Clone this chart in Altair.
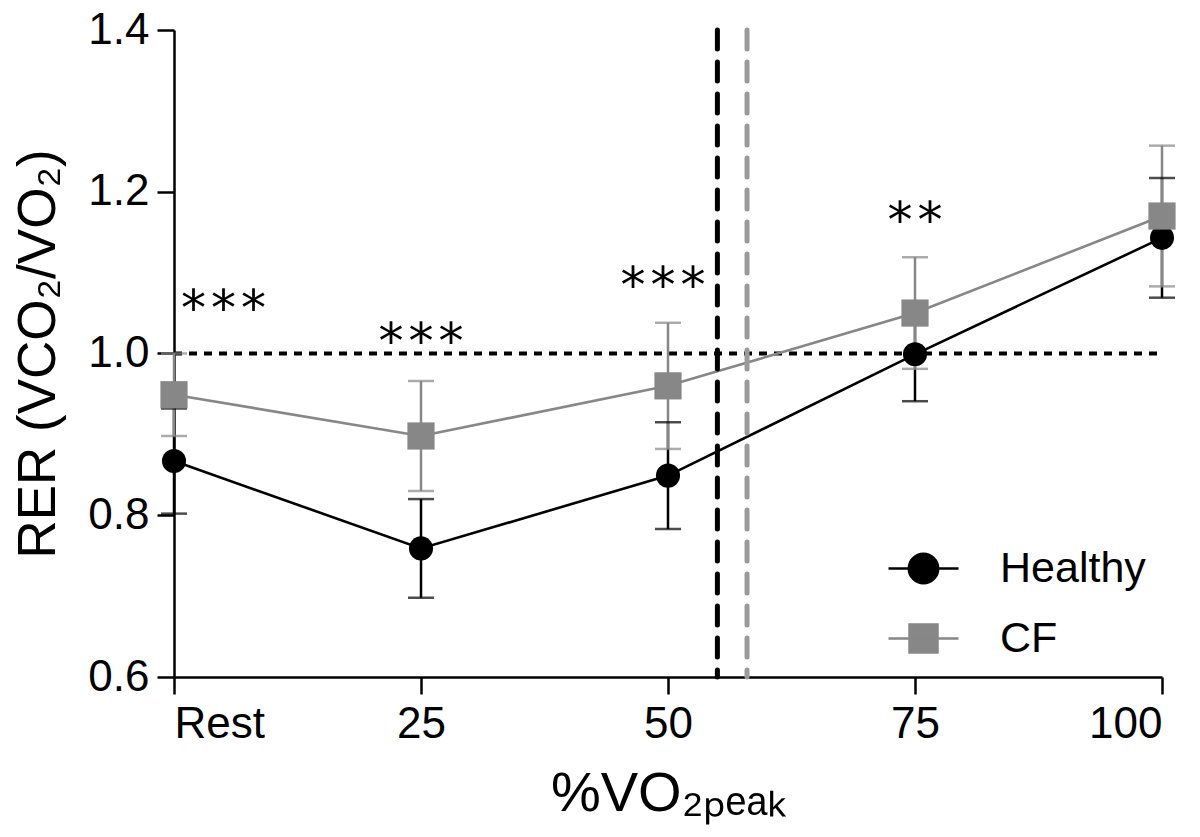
import altair as alt
import pandas as pd

# ---- data ----
levels = [0, 25, 50, 75, 100]            # 0 = Rest
level_names = ["Rest", "25", "50", "75", "100"]
groups = ["Healthy", "CF"]

healthy_mean = [0.867, 0.759, 0.849, 0.999, 1.143]
healthy_err = [0.065, 0.061, 0.066, 0.058, 0.074]
cf_mean = [0.949, 0.898, 0.960, 1.050, 1.170]
cf_err = [0.051, 0.068, 0.078, 0.069, 0.087]

threshold_x = [55, 58]                  # ventilatory threshold (%VO2peak)
threshold_group = ["Healthy", "CF"]
ref_y = [1.0]

sig_x = [5, 25, 49.5, 75]
sig_y = [1.066, 1.025, 1.094, 1.175]
sig_text = ["*\u200a*\u200a*", "*\u200a*\u200a*", "*\u200a*\u200a*", "*\u200a*"]

colors = ["#000000", "#878787"]
FONT = "Liberation Sans"

# ---- tables ----
rows = []
for g, means, errs in [("Healthy", healthy_mean, healthy_err), ("CF", cf_mean, cf_err)]:
    for x, m, e in zip(levels, means, errs):
        rows.append({"group": g, "x": x, "mean": m, "lo": m - e, "hi": m + e})
df = pd.DataFrame(rows)
thr = pd.DataFrame({"x": threshold_x, "group": threshold_group})
ref = pd.DataFrame({"y": ref_y, "x0": [levels[0]], "x1": [levels[-1]]})
sig = pd.DataFrame({"x": sig_x, "y": sig_y, "t": sig_text})

xscale = alt.Scale(domain=[0, 100], nice=False, zero=False)
yscale = alt.Scale(domain=[0.6, 1.4], nice=False, zero=False)
cscale = alt.Scale(domain=groups, range=colors)

X = alt.X("x:Q", scale=xscale,
          axis=alt.Axis(values=levels, title="%VO₂ₚₑₐₖ",
                        labelExpr="datum.value == 0 ? 'Rest' : datum.label",
                        titlePadding=20, labelPadding=8))
Y = alt.Y("mean:Q", scale=yscale,
          axis=alt.Axis(values=[0.6, 0.8, 1.0, 1.2, 1.4], format=".1f",
                        title="RER (VCO₂/VO₂)", titlePadding=22, labelPadding=8))

base = alt.Chart(df)

circ_path = "M-1,0H1M-0.42,0A0.42,0.42,0,1,1,0.42,0A0.42,0.42,0,1,1,-0.42,0Z"
sq_path = "M-1,0H1M-0.4,-0.4H0.4V0.4H-0.4Z"
leg = dict(orient="none", legendX=713, legendY=502, title=None, symbolSize=4900,
           labelFontSize=43, labelFont=FONT, labelColor="black", labelOffset=40,
           symbolOpacity=1, symbolStrokeWidth=2.5, rowPadding=11, padding=0)
legend_layer = base.mark_point(filled=True, size=1, strokeWidth=2.5).encode(
    x=alt.X("x:Q", scale=xscale), y=alt.Y("mean:Q", scale=yscale),
    fill=alt.Fill("group:N", scale=alt.Scale(domain=groups, range=colors), legend=alt.Legend(**leg)),
    stroke=alt.Stroke("group:N", scale=alt.Scale(domain=groups, range=colors), legend=alt.Legend(**leg)),
    shape=alt.Shape("group:N", scale=alt.Scale(domain=groups, range=[circ_path, sq_path]),
                    legend=alt.Legend(**leg)))

hline = alt.Chart(ref).mark_rule(strokeDash=[8, 7], strokeWidth=4, color="black").encode(
    x=alt.X("x0:Q", scale=xscale), x2="x1:Q", y=alt.Y("y:Q", scale=yscale))

lines = base.mark_line(strokeWidth=2.6).encode(
    x=X, y=Y, color=alt.Color("group:N", scale=cscale, legend=None), detail="group:N")

ebars = base.mark_rule(strokeWidth=2.5).encode(
    x=alt.X("x:Q", scale=xscale), y=alt.Y("lo:Q", scale=yscale), y2="hi:Q",
    color=alt.Color("group:N", scale=cscale, legend=None))

caps = base.transform_fold(["lo", "hi"], as_=["k", "v"]).mark_tick(
    orient="horizontal", size=26, thickness=2.5).encode(
    x=alt.X("x:Q", scale=xscale), y=alt.Y("v:Q", scale=yscale),
    color=alt.Color("group:N", scale=cscale, legend=None))

vl_h = alt.Chart(thr).transform_filter("datum.group == 'Healthy'").mark_rule(
    strokeDash=[19, 13], strokeWidth=5, strokeCap="round", color="#000000").encode(
    x=alt.X("x:Q", scale=xscale))
vl_c = alt.Chart(thr).transform_filter("datum.group == 'CF'").mark_rule(
    strokeDash=[19, 13], strokeWidth=5, strokeCap="round", color="#9a9a9a").encode(
    x=alt.X("x:Q", scale=xscale))

pts_h = base.transform_filter("datum.group == 'Healthy'").mark_point(
    shape="circle", filled=True, size=580, color="#000000", opacity=1).encode(
    x=alt.X("x:Q", scale=xscale), y=alt.Y("mean:Q", scale=yscale))
pts_c = base.transform_filter("datum.group == 'CF'").mark_point(
    shape="square", filled=True, size=740, color="#878787", opacity=1).encode(
    x=alt.X("x:Q", scale=xscale), y=alt.Y("mean:Q", scale=yscale))

stars = alt.Chart(sig).mark_text(font="DejaVu Sans", fontSize=50, baseline="middle",
                                 align="center", color="black", dy=10).encode(
    x=alt.X("x:Q", scale=xscale), y=alt.Y("y:Q", scale=yscale), text="t:N")

chart = alt.layer(legend_layer, hline, lines, vl_h, vl_c, ebars, caps, pts_h, pts_c, stars).properties(
    width=988, height=647,
    autosize=alt.AutoSizeParams(type="none"),
    padding={"left": 166, "top": 22, "right": 30, "bottom": 150},
    background="white",
).configure_view(stroke=None).configure_axis(
    grid=False, domainColor="black", domainWidth=2.5, tickColor="black", tickWidth=2.5,
    tickSize=17, labelFont=FONT, labelFontSize=44, labelColor="black",
    titleFont=FONT, titleFontWeight="normal", titleColor="black",
).configure_axisX(titleFontSize=56).configure_axisY(titleFontSize=53)

chart.save("out.html", embed_options={"renderer": "svg", "actions": False})
